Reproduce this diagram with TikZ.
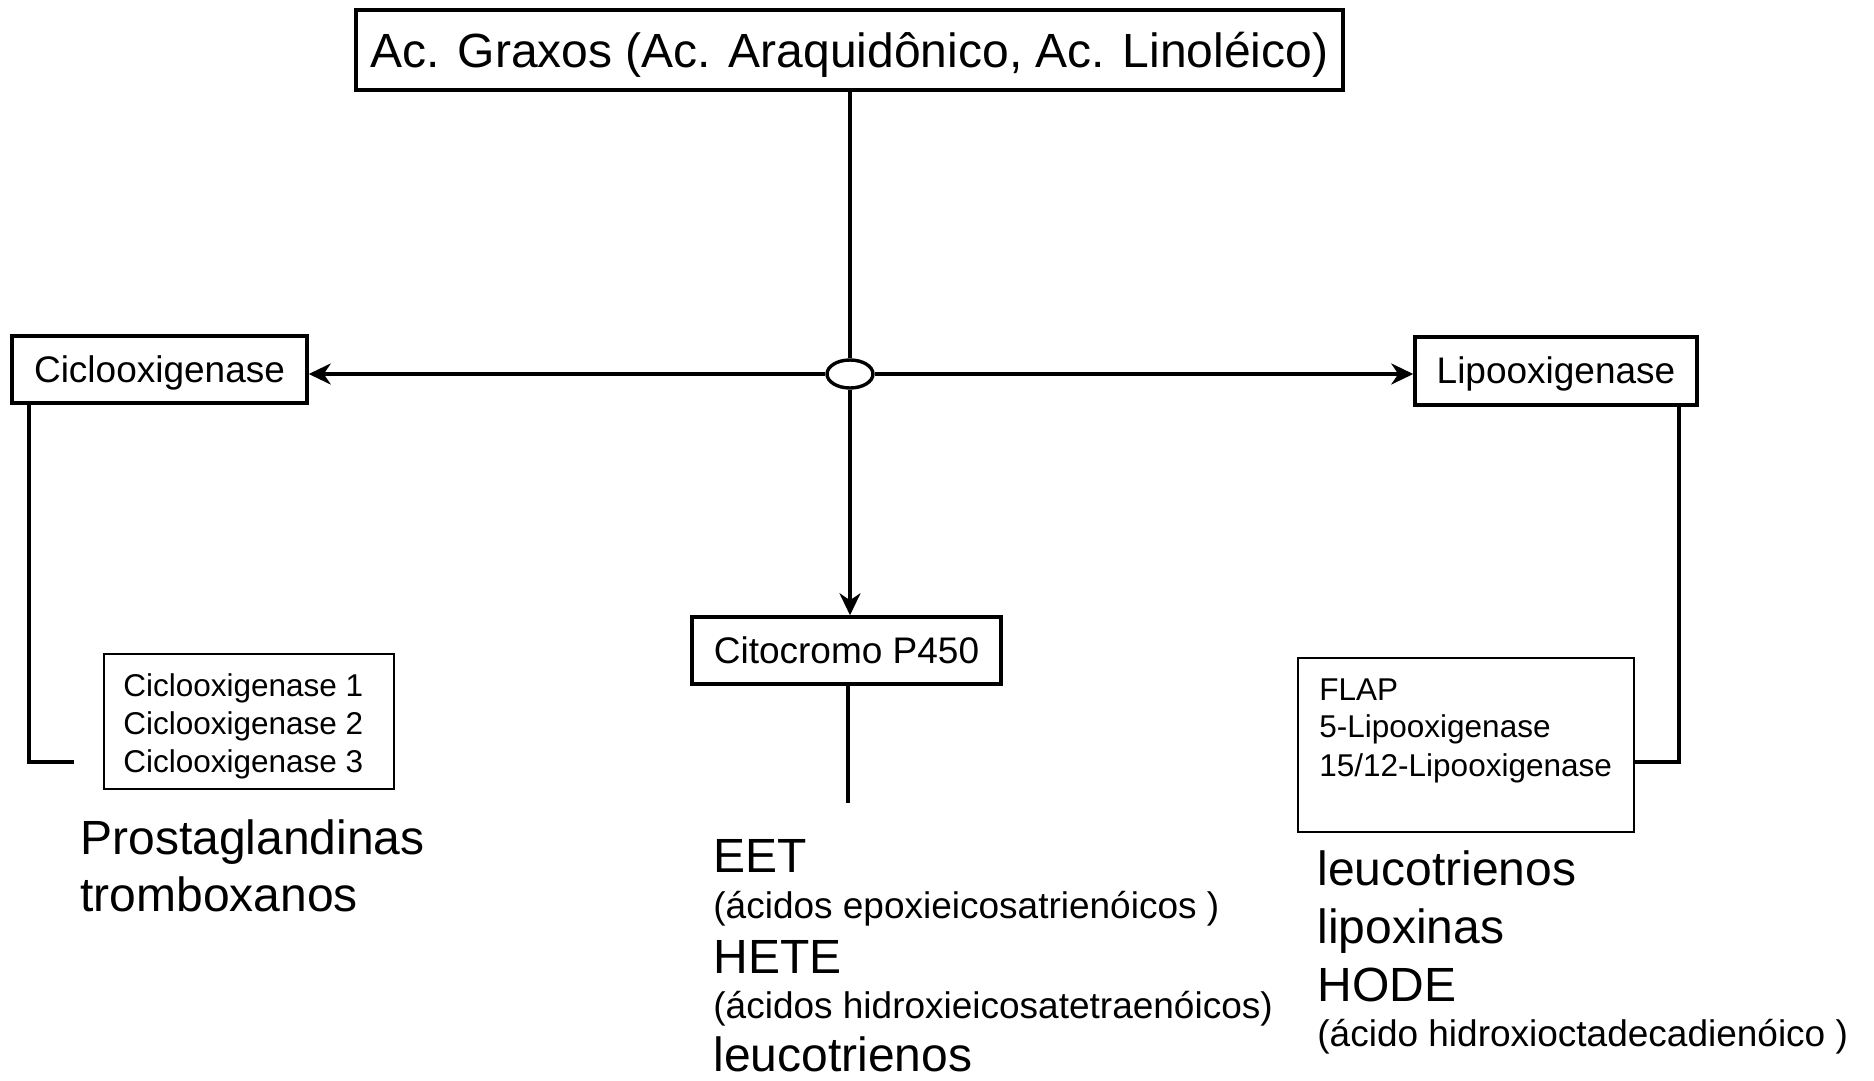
\documentclass[tikz,border=0pt]{standalone}
\usepackage{fontspec}
\setmainfont{Liberation Sans}
\usetikzlibrary{shapes.geometric,arrows.meta}
\newcommand\fbig{\fontsize{24pt}{28.5pt}\selectfont}
\newcommand\fmed{\fontsize{18.5pt}{22pt}\selectfont}
\newcommand\fsml{\fontsize{15.75pt}{19pt}\selectfont}
\begin{document}
\begin{tikzpicture}[x=0.5pt,y=-0.5pt,
  mainbox/.style={draw,line width=1.75pt,inner sep=0pt,fill=white},
  subbox/.style={draw,line width=0.75pt,inner sep=0pt},
  conn/.style={line width=1.7pt},
  arr/.style={conn,-{Stealth[length=11pt,width=10.5pt,inset=3.5pt]}},
  txt/.style={inner sep=0pt,anchor=base west}]
\useasboundingbox (0,0) rectangle (1874,1081);
% main boxes
\node[mainbox,minimum width=493.5pt,minimum height=40pt,font=\fbig,text height=23pt,text depth=5pt] (top) at (849.5,50) {Ac. Graxos (Ac. Araquidônico, Ac. Linoléico)};
\node[ellipse,draw,line width=1.7pt,fill=white,minimum width=23pt,minimum height=14pt,inner sep=0pt] (ell) at (850,374) {};
\node[mainbox,minimum width=147.5pt,minimum height=33.5pt,font=\fmed,text height=16.5pt,text depth=3.9pt] (ciclo) at (159.5,369.5) {Ciclooxigenase};
\node[mainbox,minimum width=141pt,minimum height=34pt,font=\fmed,text height=16.5pt,text depth=3.9pt] (lipo) at (1556,371) {Lipooxigenase};
\node[mainbox,minimum width=154.5pt,minimum height=33.5pt,font=\fmed] (cito) at (846.5,650.5) {Citocromo P450};
% sub boxes
\node[subbox,minimum width=145pt,minimum height=67.5pt] (coxbox) at (249,721.5) {};
\node[txt,font=\fsml] (cox1) at (123,696) {Ciclooxigenase 1};
\node[txt,font=\fsml] (cox2) at (123,734) {Ciclooxigenase 2};
\node[txt,font=\fsml] (cox3) at (123,772) {Ciclooxigenase 3};
\node[subbox,minimum width=168pt,minimum height=87pt] (flapbox) at (1466,745) {};
\node[txt,font=\fsml] (flap1) at (1319,700) {FLAP};
\node[txt,font=\fsml] (flap2) at (1319,737) {5-Lipooxigenase};
\node[txt,font=\fsml] (flap3) at (1319,776) {15/12-Lipooxigenase};
% products
\node[txt,font=\fbig] (prost) at (80,854) {Prostaglandinas};
\node[txt,font=\fbig] (tromb) at (80,911) {tromboxanos};
\node[txt,font=\fbig] (eet) at (713,872) {EET};
\node[txt,font=\fmed] (eetdesc) at (713,918) {(ácidos epoxieicosatrienóicos )};
\node[txt,font=\fbig] (hete) at (713,973) {HETE};
\node[txt,font=\fmed] (hetedesc) at (713,1018) {(ácidos hidroxieicosatetraenóicos)};
\node[txt,font=\fbig] (leucoC) at (713,1071) {leucotrienos};
\node[txt,font=\fbig] (leucoR) at (1317,885) {leucotrienos};
\node[txt,font=\fbig] (lipox) at (1317,943) {lipoxinas};
\node[txt,font=\fbig] (hode) at (1317,1001) {HODE};
\node[txt,font=\fmed] (hodedesc) at (1317,1046) {(ácido hidroxioctadecadienóico )};
% connectors
\draw[conn] (top.south -| ell.north) -- (ell.north);
\draw[arr] (ell.west) -- (ell.west -| ciclo.east);
\draw[arr] (ell.east) -- (ell.east -| lipo.west);
\draw[arr] (ell.south) -- (ell.south |- cito.north);
\coordinate (citoEnd) at (848,803);
\draw[conn] (cito.south -| citoEnd) -- (citoEnd);
\coordinate (coxKnee) at (29,762);
\coordinate (coxEnd) at (74,762);
\draw[conn] (ciclo.south -| coxKnee) -- (coxKnee) -- (coxEnd);
\coordinate (lipoKnee) at (1679,762);
\draw[conn] (lipo.south -| lipoKnee) -- (lipoKnee) -- (lipoKnee -| flapbox.east);
\end{tikzpicture}
\end{document}
